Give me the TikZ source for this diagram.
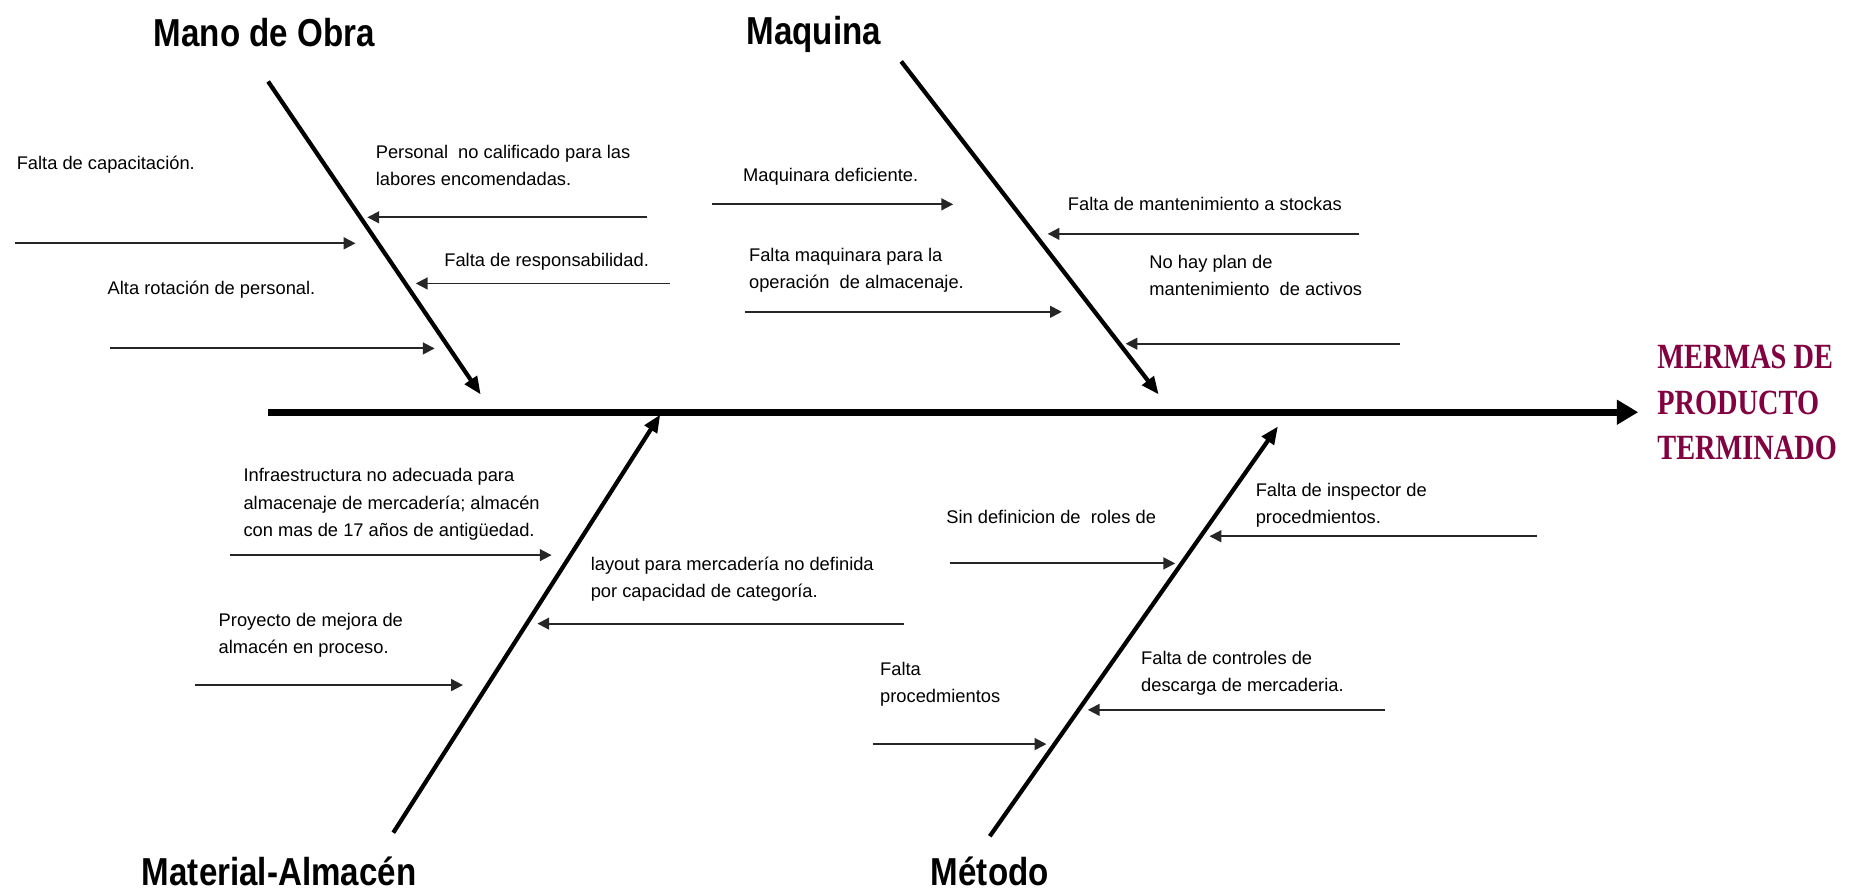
\documentclass[tikz,border=0pt]{standalone}
\usepackage{fontspec}
\setmainfont{Liberation Sans}
\newfontfamily\catfont[FakeStretch=0.85]{Liberation Sans}
\newfontfamily\effont[FakeStretch=0.8]{Liberation Serif}
\usetikzlibrary{arrows.meta}
\definecolor{merma}{RGB}{128,0,64}
\begin{document}
\begin{tikzpicture}[x=1pt,y=-1pt,
  bone/.style={line width=3.6pt, -{Triangle[length=15pt,width=12pt]}},
  spinestyle/.style={line width=6pt, -{Triangle[length=18pt,width=20pt]}},
  cause/.style={line width=1.6pt, black!85, -{Triangle[length=10pt,width=10pt]}},
  lab/.style={font=\fontsize{15.5}{23}\selectfont, align=left, inner sep=0pt, anchor=west},
  cat/.style={font=\catfont\bfseries\fontsize{33}{38}\selectfont, inner sep=0pt, anchor=base west},
  effect/.style={font=\effont\bfseries\fontsize{30}{38.5}\selectfont, text=merma, align=left, inner sep=0pt, anchor=west}]
\useasboundingbox (0,0) rectangle (1568,754);

% spine
\coordinate (spA) at (227,349);
\coordinate (spB) at (1387,349);
\draw[spinestyle] (spA) -- (spB);
\node[effect] (eff) at (1403,341) {MERMAS DE\\PRODUCTO\\TERMINADO};

% categories
\node[cat] (mano) at (130,39) {Mano de Obra};
\node[cat] (maq) at (632,38) {Maquina};
\node[cat] (mat) at (120,750) {Material-Almacén};
\node[cat] (met) at (788,750) {Método};

% bones
\coordinate (moA) at (227,69);  \coordinate (moB) at (407,334);
\coordinate (mqA) at (763,52);  \coordinate (mqB) at (981,334);
\coordinate (maA) at (333,705); \coordinate (maB) at (559,351);
\coordinate (meA) at (838,708); \coordinate (meB) at (1082,361);
\draw[bone] (moA) -- (moB);
\draw[bone] (mqA) -- (mqB);
\draw[bone] (maA) -- (maB);
\draw[bone] (meA) -- (meB);

% cause arrow end points
\coordinate (c1s) at (13,206);   \coordinate (c1e) at (301,206);
\coordinate (c2s) at (548,184);  \coordinate (c2e) at (311,184);
\coordinate (c3s) at (567,240);  \coordinate (c3e) at (352,240);
\coordinate (c4s) at (93,295);   \coordinate (c4e) at (368,295);
\coordinate (c5s) at (603,173);  \coordinate (c5e) at (807,173);
\coordinate (c6s) at (631,264);  \coordinate (c6e) at (899,264);
\coordinate (c7s) at (1151,198); \coordinate (c7e) at (887,198);
\coordinate (c8s) at (1185,291); \coordinate (c8e) at (953,291);
\coordinate (c9s) at (195,470);  \coordinate (c9e) at (467,470);
\coordinate (c10s) at (765,528); \coordinate (c10e) at (455,528);
\coordinate (c11s) at (165,580); \coordinate (c11e) at (392,580);
\coordinate (c12s) at (804,477); \coordinate (c12e) at (995,477);
\coordinate (c13s) at (1301,454);\coordinate (c13e) at (1024,454);
\coordinate (c14s) at (739,630); \coordinate (c14e) at (886,630);
\coordinate (c15s) at (1173,601);\coordinate (c15e) at (921,601);
\foreach \i in {1,...,15} {\draw[cause] (c\i s) -- (c\i e);}

% cause labels
\node[lab] (l1) at (14,139) {Falta de capacitación.};
\node[lab] (l2) at (318,140) {Personal\ \ no calificado para las\\labores encomendadas.};
\node[lab] (l3) at (376,222) {Falta de responsabilidad.};
\node[lab] (l4) at (91,245) {Alta rotación de personal.};
\node[lab] (l5) at (629,150) {Maquinara deficiente.};
\node[lab] (l6) at (634,229) {Falta maquinara para la\\operación\ \ de almacenaje.};
\node[lab] (l7) at (904,173) {Falta de mantenimiento a stockas};
\node[lab] (l8) at (973,233) {No hay plan de\\mantenimiento\ \ de activos};
\node[lab] (l9) at (206,427) {Infraestructura no adecuada para\\almacenaje de mercadería; almacén\\con mas de 17 años de antigüedad.};
\node[lab] (l10) at (500,490) {layout para mercadería no definida\\por capacidad de categoría.};
\node[lab] (l11) at (185,538) {Proyecto de mejora de\\almacén en proceso.};
\node[lab] (l12) at (801,438) {Sin definicion de\ \ roles de};
\node[lab] (l13) at (1063,428) {Falta de inspector de\\procedmientos.};
\node[lab] (l14) at (745,579) {Falta\\procedmientos};
\node[lab] (l15) at (966,570) {Falta de controles de\\descarga de mercaderia.};
\end{tikzpicture}
\end{document}
